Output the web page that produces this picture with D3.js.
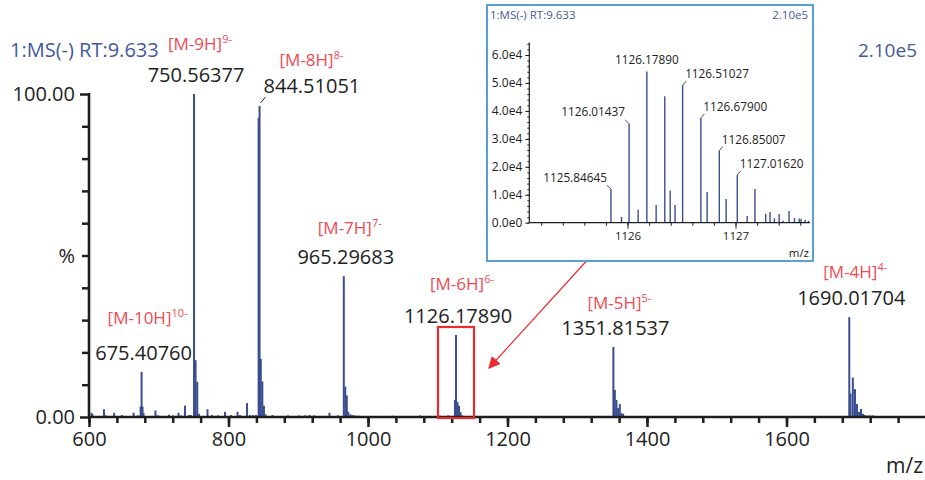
<!DOCTYPE html>
<html>
<head>
<meta charset="utf-8">
<script src="https://cdn.jsdelivr.net/npm/d3@7"></script>
<style>
  body { margin: 0; background: #fff; }
  svg { display: block; font-family: "Open Sans", "Noto Sans", sans-serif; }
</style>
</head>
<body>
<svg id="chart" width="925" height="480"></svg>
<script>
// main spectrum: m/z and relative intensity (%)
var mainMz = [603.6, 605.0, 621.5, 624.0, 636.0, 647.0, 664.0, 670.0, 674.0, 675.41, 676.8, 678.2,
    695.3, 699.0, 714.7, 720.4, 728.3, 732.0, 737.6, 743.4, 746.0, 750.56, 752.8, 755.2, 757.5,
    769.9, 776.3, 785.0, 795.0, 803.6, 812.9, 816.5, 826.5, 830.8, 835.0, 839.4, 843.2, 844.51,
    846.3, 848.5, 850.8, 853.0, 863.0, 885.3, 901.0, 910.0, 916.0, 923.0, 944.8, 957.0, 965.30,
    967.4, 969.6, 971.8, 975.0, 978.0, 981.8, 987.0, 1035.0, 1074.5, 1103.0, 1115.0, 1124.6,
    1126.18, 1128.3, 1130.5, 1132.7, 1135.0, 1351.82, 1353.9, 1356.2, 1358.6, 1361.0, 1363.4,
    1365.8, 1690.02, 1691.8, 1695.1, 1698.2, 1701.1, 1704.0, 1706.8, 1709.7, 1712.5, 1716.0,
    1720.0, 1724.0];
var mainInt = [1.3, 0.8, 2.4, 0.5, 1.3, 0.6, 1.3, 0.5, 3.2, 14.0, 3.2, 1.2,
    2.0, 0.5, 0.7, 0.5, 1.3, 0.5, 3.5, 0.6, 0.6, 100, 17.6, 10.9, 1.0,
    2.4, 0.6, 0.5, 1.6, 0.6, 1.6, 0.6, 4.3, 0.6, 0.6, 0.6, 92.6, 96.3,
    18.0, 11.0, 3.5, 0.8, 0.6, 0.5, 0.5, 0.5, 0.6, 0.5, 1.3, 0.5, 43.6,
    9.4, 6.7, 1.6, 0.8, 0.6, 0.5, 0.4, 0.4, 0.5, 0.4, 0.5, 5.3,
    25.4, 4.7, 3.5, 1.5, 0.5, 21.7, 8.4, 5.3, 2.8, 4.0, 1.2,
    1.0, 30.9, 7.3, 12.2, 8.6, 4.0, 1.6, 2.5, 1.0, 0.6, 0.5,
    0.5, 0.5];

// labelled peaks
var labelMz = [675.40760, 750.56377, 844.51051, 965.29683, 1126.17890, 1351.81537, 1690.01704];
var labelText = ["675.40760", "750.56377", "844.51051", "965.29683", "1126.17890", "1351.81537", "1690.01704"];
var ionNames = ["[M-10H]", "[M-9H]", "[M-8H]", "[M-7H]", "[M-6H]", "[M-5H]", "[M-4H]"];
var ionCharges = ["10-", "9-", "8-", "7-", "6-", "5-", "4-"];
var labelInt = [14.0, 100, 96.3, 43.6, 25.4, 21.7, 30.9];

// zoomed isotope cluster (inset): m/z and intensity (counts)
var insetMz = [1125.84645, 1125.944, 1126.01437, 1126.098, 1126.17890, 1126.265, 1126.345, 1126.395,
    1126.44, 1126.51027, 1126.67900, 1126.737, 1126.85007, 1126.913, 1127.01620, 1127.108, 1127.18,
    1127.28, 1127.32, 1127.36, 1127.404, 1127.44, 1127.496, 1127.546, 1127.59, 1127.607, 1127.645, 1127.676];
var insetInt = [12000, 2100, 35400, 4600, 54100, 6300, 45200, 11400,
    6300, 49200, 37500, 11000, 25800, 8500, 17100, 2400, 12100,
    3100, 3800, 1600, 3100, 700, 4200, 1700, 1500, 1400, 1000, 700];
var insetLabelMz = [1125.84645, 1126.01437, 1126.17890, 1126.51027, 1126.67900, 1126.85007, 1127.01620];
var insetLabelSide = ["left", "left", "top", "right", "right", "right", "right"];

var titleText = "1:MS(-) RT:9.633";
var maxText = "2.10e5";

var navy = "#3b4e90", blueText = "#43599b", redText = "#f04a52", redMark = "#e92a2f", axisCol = "#1e1e1e";

var svg = d3.select("#chart");

// ---------- main chart ----------
var x = d3.scaleLinear().domain([600, 1800]).range([89, 926]);
var y = d3.scaleLinear().domain([0, 100]).range([417, 94]);

svg.append("g")
    .selectAll("rect")
    .data(mainMz)
    .enter()
    .append("rect")
    .attr("x", (d, i) => x(d) - 1)
    .attr("width", 2)
    .attr("y", (d, i) => y(mainInt[i]))
    .attr("height", (d, i) => y(0) - y(mainInt[i]))
    .attr("fill", navy);

// x axis: minor ticks every 40, labelled ticks every 200
var xMinor = d3.axisBottom(x).tickValues(d3.range(600, 1800, 40)).tickSize(6).tickFormat("").tickSizeOuter(0);
var xMajor = d3.axisBottom(x).tickValues(d3.range(600, 1601, 200)).tickSize(10).tickPadding(5).tickFormat(d3.format("d")).tickSizeOuter(0);
[xMinor, xMajor].forEach(function(ax) {
    var g = svg.append("g").attr("transform", "translate(0," + y(0) + ")").call(ax);
    g.select(".domain").remove();
    g.selectAll("line").attr("stroke", axisCol).attr("stroke-width", 2.5);
    g.selectAll("text").attr("font-size", 20).attr("fill", "#222").attr("font-family", "Open Sans");
});
svg.append("line").attr("x1", 88).attr("x2", 925).attr("y1", y(0)).attr("y2", y(0))
    .attr("stroke", axisCol).attr("stroke-width", 2.6);

// y axis
var yMinor = d3.axisLeft(y).tickValues(d3.range(10, 100, 10)).tickSize(7).tickFormat("").tickSizeOuter(0);
var yMajor = d3.axisLeft(y).tickValues([0, 100]).tickSize(9).tickPadding(5).tickFormat(d3.format(".2f")).tickSizeOuter(0);
[yMinor, yMajor].forEach(function(ax) {
    var g = svg.append("g").attr("transform", "translate(" + x(600) + ",0)").call(ax);
    g.select(".domain").remove();
    g.selectAll("line").attr("stroke", axisCol).attr("stroke-width", 2.5);
    g.selectAll("text").attr("font-size", 20).attr("fill", "#222").attr("font-family", "Open Sans");
});
svg.append("line").attr("x1", x(600)).attr("x2", x(600)).attr("y1", y(100) - 1).attr("y2", y(0) + 1)
    .attr("stroke", axisCol).attr("stroke-width", 2.6);
svg.append("text").attr("x", 75).attr("y", y(50)).attr("dy", "0.35em").attr("text-anchor", "end")
    .attr("font-size", 20).attr("fill", "#222").text("%");

svg.append("text").attr("x", 923).attr("y", 473).attr("text-anchor", "end")
    .attr("font-size", 21).attr("fill", "#222").text("m/z");

svg.append("text").attr("x", 10).attr("y", 57).attr("font-size", 20).attr("fill", blueText).text(titleText);
svg.append("text").attr("x", 917).attr("y", 57).attr("text-anchor", "end").attr("font-size", 19).attr("fill", blueText).text(maxText);

// peak labels
var ionGap = [36, 32, 27, 30, 33, 26, 27];
labelMz.forEach(function(mz, i) {
    var px = x(mz), top = y(labelInt[i]);
    var nx = px + 2, ny = top - 12, anchor = "middle";
    if (i == 2) { // 844 is labelled to the right with a short leader
        nx = px + 4; ny = top - 13; anchor = "start";
        svg.append("line").attr("x1", px + 1).attr("y1", top - 3).attr("x2", px + 6).attr("y2", top - 9)
            .attr("stroke", "#222").attr("stroke-width", 1);
    }
    svg.append("text").attr("x", nx).attr("y", ny).attr("text-anchor", anchor)
        .attr("font-size", 20).attr("fill", "#222").text(labelText[i]);
    var ionX = (i == 2) ? nx + 48 : nx + 4;
    var t = svg.append("text").attr("x", ionX).attr("y", ny - ionGap[i]).attr("text-anchor", "middle")
        .attr("font-size", 17).attr("fill", redText);
    t.append("tspan").text(ionNames[i]);
    t.append("tspan").attr("dy", -7).attr("font-size", 11).text(ionCharges[i]);
});

// red box round the zoomed cluster, arrow to inset
svg.append("rect").attr("x", 438).attr("y", 327).attr("width", 36).attr("height", 91)
    .attr("fill", "none").attr("stroke", redMark).attr("stroke-width", 2.2);

svg.append("defs").append("marker")
    .attr("id", "arrow").attr("viewBox", "0 0 10 10").attr("refX", 9).attr("refY", 5)
    .attr("markerWidth", 12).attr("markerHeight", 12).attr("markerUnits", "userSpaceOnUse")
    .attr("orient", "auto")
    .append("path").attr("d", "M0,0 L10,5 L0,10 z").attr("fill", redMark);
svg.append("line").attr("x1", 586.5).attr("y1", 261).attr("x2", 489).attr("y2", 368)
    .attr("stroke", redMark).attr("stroke-width", 1.2).attr("marker-end", "url(#arrow)");

// ---------- inset ----------
svg.append("rect").attr("x", 487).attr("y", 5).attr("width", 326).attr("height", 256)
    .attr("fill", "#fff").attr("stroke", "#5b9fd8").attr("stroke-width", 2);

var ix = d3.scaleLinear().domain([1125.09, 1127.69]).range([529.3, 810]);
var iy = d3.scaleLinear().domain([0, 60000]).range([222.7, 55]);

svg.append("text").attr("x", 490).attr("y", 19).attr("font-size", 11.5).attr("fill", blueText).text(titleText);
svg.append("text").attr("x", 808).attr("y", 19).attr("text-anchor", "end").attr("font-size", 11.5).attr("fill", blueText).text(maxText);

svg.append("g")
    .selectAll("line")
    .data(insetMz)
    .enter()
    .append("line")
    .attr("x1", d => ix(d)).attr("x2", d => ix(d))
    .attr("y1", iy(0))
    .attr("y2", (d, i) => iy(insetInt[i]))
    .attr("stroke", navy).attr("stroke-width", 1.4);

var ixMinor = d3.axisBottom(ix).tickValues(d3.range(1125.2, 1127.7, 0.2)).tickSize(3).tickFormat("").tickSizeOuter(0);
var ixMajor = d3.axisBottom(ix).tickValues([1126, 1127]).tickSize(6).tickPadding(3).tickFormat(d3.format("d")).tickSizeOuter(0);
[ixMinor, ixMajor].forEach(function(ax) {
    var g = svg.append("g").attr("transform", "translate(0," + iy(0) + ")").call(ax);
    g.select(".domain").remove();
    g.selectAll("line").attr("stroke", axisCol).attr("stroke-width", 1);
    g.selectAll("text").attr("font-size", 11.5).attr("fill", "#222").attr("font-family", "Open Sans");
});
svg.append("line").attr("x1", 529.3).attr("x2", 810).attr("y1", iy(0)).attr("y2", iy(0))
    .attr("stroke", axisCol).attr("stroke-width", 1.2);

var iyMinor = d3.axisLeft(iy).tickValues(d3.range(0, 64001, 2000)).tickSize(2).tickFormat("").tickSizeOuter(0);
var iyMajor = d3.axisLeft(iy).tickValues(d3.range(0, 60001, 10000)).tickSize(4).tickPadding(3)
    .tickFormat(d => d == 0 ? "0.0e0" : (d / 1e4).toFixed(1) + "e4").tickSizeOuter(0);
[iyMinor, iyMajor].forEach(function(ax) {
    var g = svg.append("g").attr("transform", "translate(529.3,0)").call(ax);
    g.select(".domain").remove();
    g.selectAll("line").attr("stroke", axisCol).attr("stroke-width", 1);
    g.selectAll("text").attr("font-size", 12).attr("fill", "#222").attr("font-family", "Open Sans");
});
svg.append("line").attr("x1", 529.3).attr("x2", 529.3).attr("y1", iy(64500)).attr("y2", iy(0))
    .attr("stroke", axisCol).attr("stroke-width", 1.2);

svg.append("text").attr("x", 809).attr("y", 257).attr("text-anchor", "end")
    .attr("font-size", 11.5).attr("fill", "#222").text("m/z");

insetLabelMz.forEach(function(mz, i) {
    var k = insetMz.indexOf(mz);
    var px = ix(mz), top = iy(insetInt[k]);
    var lbl = svg.append("text").attr("font-size", 11.8).attr("fill", "#222").text(mz.toFixed(5));
    if (insetLabelSide[i] == "top") {
        lbl.attr("x", px).attr("y", top - 7).attr("text-anchor", "middle");
    } else if (insetLabelSide[i] == "left") {
        svg.append("line").attr("x1", px).attr("y1", top).attr("x2", px - 4).attr("y2", top - 4)
            .attr("stroke", "#222").attr("stroke-width", 0.8);
        lbl.attr("x", px - 4).attr("y", top - 7.5).attr("text-anchor", "end");
    } else {
        svg.append("line").attr("x1", px).attr("y1", top).attr("x2", px + 3.5).attr("y2", top - 4)
            .attr("stroke", "#222").attr("stroke-width", 0.8);
        lbl.attr("x", px + 2.5).attr("y", top - 7).attr("text-anchor", "start");
    }
});
</script>
</body>
</html>
